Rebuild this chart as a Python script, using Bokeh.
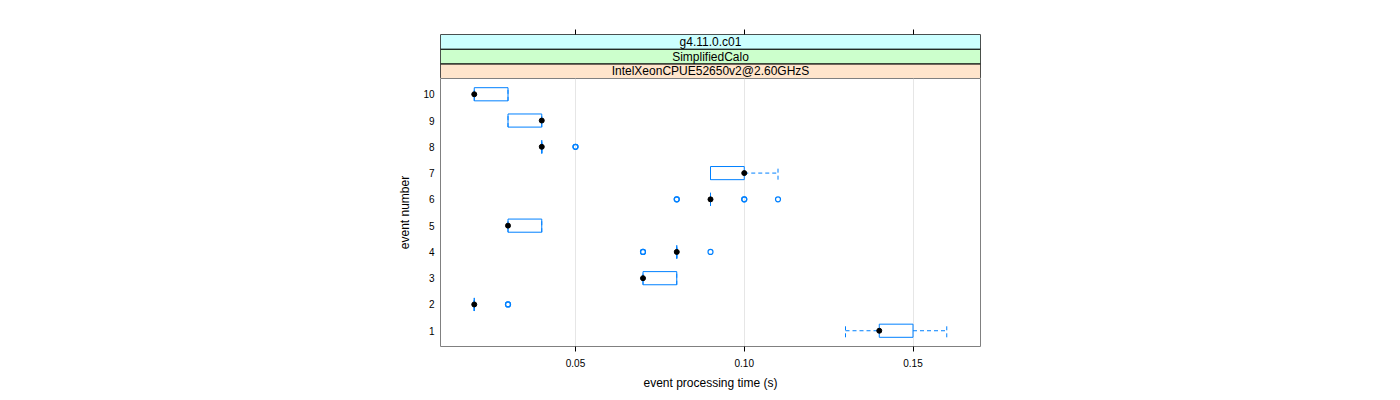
from bokeh.plotting import figure
from bokeh.models import Range1d, LinearAxis, FixedTicker, ColumnDataSource
from bokeh.layouts import column
from bokeh.embed import file_html
from bokeh.resources import INLINE
from bokeh.core.properties import value

# ---- data ----
events = [1, 2, 3, 4, 5, 6, 7, 8, 9, 10]
q1 = [0.14, 0.02, 0.07, 0.08, 0.03, 0.09, 0.09, 0.04, 0.03, 0.02]
median = [0.14, 0.02, 0.07, 0.08, 0.03, 0.09, 0.10, 0.04, 0.04, 0.02]
q3 = [0.15, 0.02, 0.08, 0.08, 0.04, 0.09, 0.10, 0.04, 0.04, 0.03]
whisker_lo = [0.13, 0.02, 0.07, 0.08, 0.03, 0.09, 0.09, 0.04, 0.03, 0.02]
whisker_hi = [0.16, 0.02, 0.08, 0.08, 0.04, 0.09, 0.11, 0.04, 0.04, 0.03]
outlier_event = [2, 2, 4, 4, 4, 6, 6, 6, 6, 6, 8, 8]
outlier_value = [0.03, 0.03, 0.07, 0.07, 0.09, 0.08, 0.08, 0.10, 0.10, 0.11, 0.05, 0.05]
strip_labels = ["IntelXeonCPUE52650v2@2.60GHzS", "SimplifiedCalo", "g4.11.0.c01"]
strip_colors = ["#ffe5cc", "#ccffcc", "#ccffff"]
x_ticks = [0.05, 0.10, 0.15]

FONT = "Liberation Sans"
BLUE = "#0080ff"
FRAME = "#808080"
LEFT, RIGHT = 440, 400
HALF = 0.25

x_range = Range1d(0.01, 0.17)

# ---- strip figure ----
s = figure(width=LEFT + 540 + RIGHT, height=34 + 44, x_range=x_range, y_range=Range1d(0, 3),
           output_backend="svg", toolbar_location=None,
           x_axis_location=None, y_axis_location=None,
           min_border_left=LEFT, min_border_right=RIGHT, min_border_top=34, min_border_bottom=0)
s.xgrid.visible = False
s.ygrid.visible = False
s.outline_line_color = FRAME
s.outline_line_width = 1
lo, hi = x_range.start, x_range.end
idx = list(range(len(strip_labels)))
s.quad(left=[lo] * 3, right=[hi] * 3, bottom=idx, top=[i + 1 for i in idx],
       fill_color=strip_colors, line_color="#000000", line_width=1)
s.text(x=[(lo + hi) / 2] * 3, y=[i + 0.5 for i in idx], text=strip_labels,
       text_align="center", text_baseline="middle", text_font=value(FONT),
       text_font_size="12px", text_color="#000000")
top_axis = LinearAxis(ticker=FixedTicker(ticks=x_ticks))
top_axis.axis_line_color = None
top_axis.major_tick_out = 5
top_axis.major_tick_in = 0
top_axis.minor_tick_line_color = None
top_axis.major_tick_line_color = "#000000"
top_axis.major_label_overrides = {t: "" for t in x_ticks}
top_axis.major_label_standoff = 0
s.add_layout(top_axis, "above")

# ---- main figure ----
p = figure(width=LEFT + 540 + RIGHT, height=270 + 44, x_range=x_range, y_range=Range1d(0.4, 10.6),
           output_backend="svg", toolbar_location=None,
           min_border_left=LEFT, min_border_right=RIGHT, min_border_top=0, min_border_bottom=44)
p.outline_line_color = FRAME
p.outline_line_width = 1
p.ygrid.visible = False
p.xgrid.ticker = FixedTicker(ticks=x_ticks)
p.xgrid.grid_line_color = "#e6e6e6"

p.xaxis.ticker = FixedTicker(ticks=x_ticks)
p.xaxis.major_label_overrides = {t: f"{t:.2f}" for t in x_ticks}
p.yaxis.ticker = FixedTicker(ticks=events)
for ax in (p.xaxis[0], p.yaxis[0]):
    ax.axis_line_color = None
    ax.minor_tick_line_color = None
    ax.major_label_text_font = FONT
    ax.major_label_text_font_size = "10px"
    ax.major_label_text_color = "#000000"
    ax.axis_label_text_font = FONT
    ax.axis_label_text_font_size = "12px"
    ax.axis_label_text_font_style = "normal"
    ax.axis_label_text_color = "#000000"
p.xaxis.major_tick_out = 5
p.xaxis.major_tick_in = 0
p.xaxis.major_tick_line_color = "#000000"
p.xaxis.major_label_standoff = 7
p.xaxis.axis_label = "event processing time (s)"
p.xaxis.axis_label_standoff = 6
p.yaxis.major_tick_out = 0
p.yaxis.major_tick_in = 0
p.yaxis.major_tick_line_color = None
p.yaxis.major_label_standoff = 6
p.yaxis.axis_label = "event number"
p.yaxis.axis_label_standoff = 8

src = ColumnDataSource(dict(
    ev=events, q1=q1, q3=q3, med=median, wlo=whisker_lo, whi=whisker_hi,
    bot=[e - HALF for e in events], top=[e + HALF for e in events]))

# whiskers (dashed)
p.segment(x0="q3", y0="ev", x1="whi", y1="ev", source=src, line_color=BLUE, line_dash="4 3", line_width=1)
p.segment(x0="wlo", y0="ev", x1="q1", y1="ev", source=src, line_color=BLUE, line_dash="4 3", line_width=1)
p.segment(x0="whi", y0="bot", x1="whi", y1="top", source=src, line_color=BLUE, line_dash="4 3", line_width=1)
p.segment(x0="wlo", y0="bot", x1="wlo", y1="top", source=src, line_color=BLUE, line_dash="4 3", line_width=1)
# boxes
p.quad(left="q1", right="q3", bottom="bot", top="top", source=src,
       fill_color=None, line_color=BLUE, line_width=1)
# outliers
p.scatter(x=outlier_value, y=outlier_event, marker="circle", size=5,
          fill_color=None, line_color=BLUE, line_width=1.2)
# medians
p.scatter(x="med", y="ev", source=src, marker="circle", size=5,
          fill_color="#000000", line_color="#000000")

layout = column(s, p, spacing=0)
open("out.html", "w").write(file_html(layout, INLINE))
